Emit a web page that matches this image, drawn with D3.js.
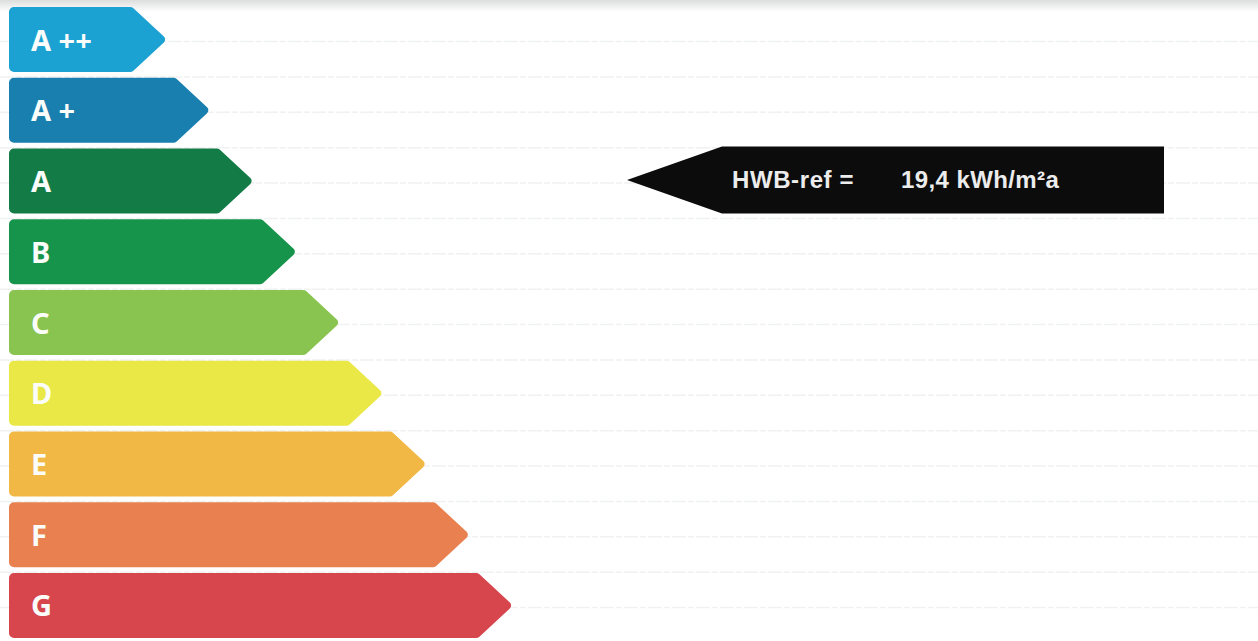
<html>
<head>
<meta charset="utf-8">
<script src="https://cdnjs.cloudflare.com/ajax/libs/d3/7.8.5/d3.min.js"></script>
<style>
body {
   margin: 0;
   background: #fff;
   overflow: hidden;
}
</style>
</head>
<body>
<svg id="canvas" width="1258" height="641"></svg>
<script>

// energy classes, top to bottom
var classes = ['A ++', 'A +', 'A', 'B', 'C', 'D', 'E', 'F', 'G'];
// upper limit of each class in kWh/m²a (G open ended)
var limits = [10, 15, 25, 50, 100, 150, 200, 250, Infinity];
// relative bar length
var lengths = [1, 2, 3, 4, 5, 6, 7, 8, 9];
var colors = ['#1ba2d3', '#187fae', '#127b46', '#17944c', '#88c44f', '#e9e846', '#f2b845', '#e8814f', '#d7454d'];

// the building's value
var hwbLabel = 'HWB-ref =';
var hwbValue = 19.4;
var hwbUnit = 'kWh/m²a';

var W = 1258, H = 641;
var svg = d3.select('#canvas');

var y = d3.scaleBand().domain(classes).range([7, 638]).paddingInner(0.08).paddingOuter(0);
var x = d3.scaleLinear().domain([1, 9]).range([167, 513]);
var x0 = 9;
var tipDepth = 35;

// scanned paper look: grey band on top and faint ruling
var defs = svg.append('defs');
var grad = defs.append('linearGradient').attr('id', 'topband').attr('x1', 0).attr('y1', 0).attr('x2', 0).attr('y2', 1);
grad.append('stop').attr('offset', 0).attr('stop-color', '#dcdedd');
grad.append('stop').attr('offset', 1).attr('stop-color', '#ffffff');
svg.append('rect').attr('width', W).attr('height', 12).attr('fill', 'url(#topband)');

var rules = [];
classes.forEach(function(c) {
  rules.push(y(c) + y.bandwidth() / 2 + 2);
  rules.push(y(c) + y.bandwidth() + 5);
});
svg.selectAll('.rule')
  .data(rules)
  .enter()
  .append('line')
  .attr('class', 'rule')
  .attr('x1', 0).attr('x2', W)
  .attr('y1', function(d) { return d; })
  .attr('y2', function(d) { return d; })
  .style('stroke', '#f0f1f1')
  .style('stroke-width', 1.5)
  .style('stroke-dasharray', '14,2,6,2');

function arrowPath(left, right, top, bottom, r, rt) {
  var mid = (top + bottom) / 2;
  var back = right - tipDepth;
  var p = d3.path();
  p.moveTo(left + r, top);
  p.arcTo(back, top, right, mid, r);
  p.arcTo(right, mid, back, bottom, rt);
  p.arcTo(back, bottom, left, bottom, r);
  p.arcTo(left, bottom, left, top, r);
  p.arcTo(left, top, back, top, r);
  p.closePath();
  return p.toString();
}

var rows = classes.map(function(c, i) {
  return {name: c, len: lengths[i], color: colors[i]};
});

svg.selectAll('.bar')
  .data(rows)
  .enter()
  .append('path')
  .attr('class', 'bar')
  .attr('d', function(d) { return arrowPath(x0, x(d.len), y(d.name), y(d.name) + y.bandwidth(), 5, 4); })
  .style('fill', function(d) { return d.color; });

svg.selectAll('.lbl')
  .data(rows)
  .enter()
  .append('text')
  .attr('class', 'lbl')
  .attr('x', 31)
  .attr('y', function(d) { return y(d.name) + y.bandwidth() / 2 + 11; })
  .style('font-family', 'Noto Sans')
  .style('font-weight', 'bold')
  .style('font-size', '29px')
  .style('fill', '#fbfdfb')
  .text(function(d) { return d.name; });

// pointer for the building's class
var klass = classes[limits.findIndex(function(l) { return hwbValue <= l; })];
var py0 = y(klass) - 2, py1 = y(klass) + y.bandwidth();
var pym = (py0 + py1) / 2;
var pTip = 627, pBack = 722, pRight = 1164;

svg.append('path')
  .attr('d', 'M' + pTip + ',' + pym + 'L' + pBack + ',' + py0 + 'L' + pRight + ',' + py0 +
             'L' + pRight + ',' + py1 + 'L' + pBack + ',' + py1 + 'Z')
  .style('fill', '#0c0c0c');

var fmt = function(v) { return d3.format('.1f')(v).replace('.', ','); };

svg.append('text')
  .attr('x', 732)
  .attr('y', pym + 8)
  .style('font-family', 'Liberation Sans')
  .style('font-weight', 'bold')
  .style('font-size', '24px')
  .style('letter-spacing', '0.6px')
  .style('fill', '#ececec')
  .text(hwbLabel);

svg.append('text')
  .attr('x', 901)
  .attr('y', pym + 8)
  .style('font-family', 'Liberation Sans')
  .style('font-weight', 'bold')
  .style('font-size', '24px')
  .style('letter-spacing', '0.4px')
  .style('fill', '#ececec')
  .text(fmt(hwbValue) + ' ' + hwbUnit);

</script>
</body>
</html>
